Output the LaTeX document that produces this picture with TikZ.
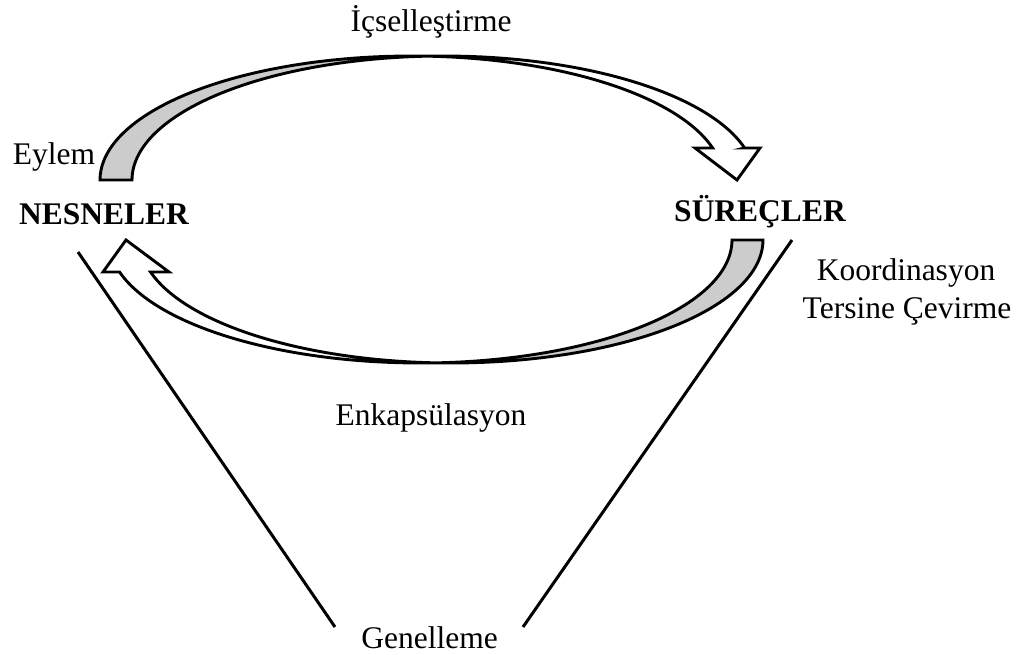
\documentclass[tikz,border=0pt]{standalone}
\usepackage{fontspec}
\setmainfont{Liberation Serif}
\begin{document}
\begin{tikzpicture}[x=1pt,y=-1pt,
  lbl/.style={font=\fontsize{31.5}{36}\selectfont, inner sep=0pt, anchor=base},
  bold lbl/.style={lbl, font=\fontsize{31.5}{36}\selectfont\bfseries},
  band/.style={line width=2.9pt, line join=miter},
  shade/.style={fill=black!20},
  edge/.style={line width=3pt}]
\useasboundingbox (0,0) rectangle (1022,655);

% upper curved arrow: two offset half-ellipses, the back side shaded
\fill[shade]
  plot[domain=180:87.06, samples=60, variable=\t] ({411.6+311.6*cos(\t)},{180-124*sin(\t)})
  -- plot[domain=92.94:180, samples=60, variable=\t] ({443.6+311.6*cos(\t)},{180-124*sin(\t)})
  -- cycle;
\draw[band]
  plot[domain=180:14.96, samples=120, variable=\t] ({411.6+311.6*cos(\t)},{180-124*sin(\t)})
  -- (695,148) -- (737,180) -- (760,148) -- (744.6,148)
  -- plot[domain=14.96:180, samples=120, variable=\t] ({443.6+311.6*cos(\t)},{180-124*sin(\t)})
  -- cycle;

% lower curved arrow: the same shape turned half a turn
\fill[shade]
  plot[domain=0:92.85, samples=60, variable=\t] ({451.4+311.6*cos(\t)},{240+123*sin(\t)})
  -- plot[domain=87.15:0, samples=60, variable=\t] ({420.4+311.6*cos(\t)},{240+123*sin(\t)})
  -- cycle;
\draw[band]
  plot[domain=0:164.92, samples=120, variable=\t] ({451.4+311.6*cos(\t)},{240+123*sin(\t)})
  -- (169,272) -- (126,240) -- (103,272) -- (119.5,272)
  -- plot[domain=164.92:0, samples=120, variable=\t] ({420.4+311.6*cos(\t)},{240+123*sin(\t)})
  -- cycle;

% labels
\node[lbl] (icsel) at (431,32) {İçselleştirme};
\node[lbl] (eylem) at (54,165) {Eylem};
\node[bold lbl] (nesneler) at (104,225) {NESNELER};
\node[bold lbl] (surecler) at (760,222) {SÜREÇLER};
\node[lbl] (koord) at (906,280) {Koordinasyon};
\node[lbl] (tersine) at (907,318) {Tersine Çevirme};
\node[lbl] (enkap) at (431,425) {Enkapsülasyon};
\node[lbl] (genel) at (429.5,648) {Genelleme};

% the cone sides meeting at the generalisation
\coordinate (lt) at (78,252);
\coordinate (lb) at (335,627);
\coordinate (rt) at (792,240);
\coordinate (rb) at (523,627);
\draw[edge] (lt) -- (lb);
\draw[edge] (rt) -- (rb);
\end{tikzpicture}
\end{document}
